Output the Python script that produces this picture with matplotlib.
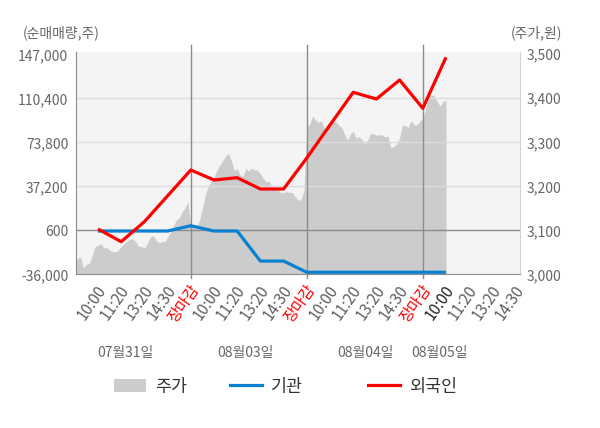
import matplotlib
matplotlib.use("Agg")
import matplotlib.pyplot as plt
import matplotlib.transforms as mtrans
import numpy as np
from matplotlib.patches import Patch
from matplotlib.lines import Line2D
from matplotlib.ticker import FuncFormatter

plt.rcParams['font.family'] = ['Noto Sans CJK KR', 'DejaVu Sans']

# ---------------- data ----------------
time_labels = ["10:00", "11:20", "13:20", "14:30", "장마감",
               "10:00", "11:20", "13:20", "14:30", "장마감",
               "10:00", "11:20", "13:20", "14:30", "장마감",
               "10:00", "11:20", "13:20", "14:30"]
date_labels = ["07월31일", "08월03일", "08월04일", "08월05일"]
date_label_pos = [1.16, 6.34, 11.51, 14.74]

# net buying (shares) at each time slot
institution = [0, 0, 0, 0, 4400, 0, 0, -25000, -25000,
               -34300, -34300, -34300, -34300, -34300, -34300, -34300]
foreign = [1680, -8880, 7750, 29255, 50760, 42440, 44350, 34950, 34950,
           60740, 88190, 115390, 109810, 125620, 102080, 144500]

# intraday price (won), sampled evenly through each session
price_day1 = [3032, 3036, 3040, 3014, 3023, 3025, 3042, 3063, 3066, 3070,
              3060, 3061, 3055, 3052, 3051, 3055, 3063, 3070, 3075, 3080,
              3080, 3074, 3063, 3064, 3059, 3070, 3085, 3088, 3078, 3072,
              3074, 3074, 3085, 3095, 3110, 3123, 3128, 3142, 3150, 3165]
price_day2 = [3110, 3107, 3108, 3123, 3150, 3180, 3200, 3210, 3220, 3237,
              3248, 3258, 3268, 3275, 3258, 3235, 3240, 3226, 3222, 3241,
              3235, 3241, 3237, 3237, 3228, 3218, 3210, 3212, 3199, 3192,
              3192, 3186, 3186, 3188, 3186, 3186, 3176, 3168, 3170, 3190]
price_day3 = [3335, 3340, 3360, 3351, 3345, 3349, 3332, 3339, 3345, 3348,
              3347, 3339, 3334, 3318, 3305, 3318, 3326, 3310, 3313, 3306,
              3297, 3305, 3320, 3319, 3316, 3317, 3317, 3312, 3314, 3288,
              3291, 3296, 3310, 3339, 3338, 3334, 3350, 3339, 3340, 3348]
price_day4 = [3355, 3375, 3405, 3408, 3405, 3392, 3382, 3393, 3396]

left_ticks = [-36000, 600, 37200, 73800, 110400, 147000]
right_ticks = [3000, 3100, 3200, 3300, 3400, 3500]
grid_vals = [37200, 73800, 110400]
zero_line = 600
day_breaks = [4, 9, 14]

# ---------------- style ----------------
GRAY_TXT = "#666666"
RED = "#ff0000"
BLUE = "#0a80d0"
AREA = "#cccccc"
BG = "#f4f4f4"

fig = plt.figure(figsize=(6, 4.28), dpi=100)
pos = [76 / 600, 1 - 274.3 / 428, (520 - 76) / 600, (274.3 - 51.7) / 428]
ax1 = fig.add_axes(pos)
ax2 = ax1.twinx()
ax1.set_zorder(ax2.get_zorder() + 1)
ax1.patch.set_visible(False)
ax2.patch.set_visible(True)
ax2.set_facecolor(BG)

# price area on the right axis
days = [price_day1, price_day2, price_day3, price_day4]
step = 5 / 40
for d, vals in enumerate(days):
    xs = 5 * d - 1 + step * np.arange(len(vals))
    if d + 1 < len(days):
        xs = np.append(xs, 5 * d + 4)
        vals = list(vals) + [days[d + 1][0]]
    ax2.fill_between(xs, vals, 3000, color=AREA, linewidth=0, zorder=1)

# grid / reference lines on the left axis
for g in grid_vals:
    ax1.axhline(g, color="#dcdcdc", lw=1, zorder=1)
ax1.axhline(zero_line, color="#8c8c8c", lw=1, zorder=2)
for b in day_breaks:
    ax1.axvline(b, ymin=-0.018, ymax=1.03, color="#8c8c8c", lw=1,
                zorder=2, clip_on=False)

idx = np.arange(len(foreign))
ax1.plot(idx, institution, color=BLUE, lw=2.3, zorder=3, solid_capstyle='butt')
ax1.plot(idx, foreign, color=RED, lw=2.3, zorder=4, solid_capstyle='butt')

ax1.set_xlim(-0.948, 18.19)
ax1.set_ylim(-36000, 149163)
ax2.set_ylim(3000, 3505.9)

ax1.set_yticks(left_ticks)
ax1.yaxis.set_major_formatter(FuncFormatter(lambda v, p: f"{v:,.0f}"))
ax2.set_yticks(right_ticks)
ax2.yaxis.set_major_formatter(FuncFormatter(lambda v, p: f"{v:,.0f}"))
ax1.tick_params(axis='y', length=0, pad=5.5, labelsize=10, labelcolor=GRAY_TXT)
ax2.tick_params(axis='y', length=0, pad=5, labelsize=10, labelcolor=GRAY_TXT)

ax1.set_xticks(range(len(time_labels)))
ax1.set_xticklabels(time_labels)
ax1.tick_params(axis='x', length=0, pad=5.5, labelsize=11)
offset = mtrans.ScaledTranslation(-2 / 100, 0, fig.dpi_scale_trans)
for i, lab in enumerate(ax1.get_xticklabels()):
    lab.set_rotation(55)
    lab.set_ha('right')
    lab.set_va('top')
    lab.set_rotation_mode('anchor')
    lab.set_transform(lab.get_transform() + offset)
    t = time_labels[i]
    if t == "장마감":
        lab.set_color(RED)
    elif i == 15:
        lab.set_color("#222222")
    else:
        lab.set_color("#606060")

for s in ['top', 'right']:
    ax1.spines[s].set_visible(False)
for s in ['left', 'bottom']:
    ax1.spines[s].set_color("#8c8c8c")
for s in ['top', 'left', 'bottom']:
    ax2.spines[s].set_visible(False)
ax2.spines['right'].set_color("#d4d4d4")

# date labels
trans = mtrans.blended_transform_factory(ax1.transData, ax1.transAxes)
for x, t in zip(date_label_pos, date_labels):
    ax1.text(x, -0.3535, t, transform=trans, ha='center', va='center',
             fontsize=10, color=GRAY_TXT)

# axis titles
fig.text(22.7 / 600, 1 - 33 / 428, "(순매매량,주)", ha='left', va='center',
         fontsize=10, color=GRAY_TXT)
fig.text(562 / 600, 1 - 33 / 428, "(주가,원)", ha='right', va='center',
         fontsize=10, color=GRAY_TXT)

# legend
leg_items = [
    (Patch(facecolor=AREA, edgecolor='none'), "주가", 114),
    (Line2D([], [], color=BLUE, lw=2.3), "기관", 230),
    (Line2D([], [], color=RED, lw=2.3), "외국인", 368),
]
for h, l, xp in leg_items:
    fig.legend([h], [l], loc='center left', bbox_to_anchor=(xp / 600, 1 - 386.7 / 428),
               frameon=False, fontsize=12.5, handlelength=1.84, handleheight=0.82,
               handletextpad=0.5, borderpad=0, borderaxespad=0, labelcolor="#333333")

fig.savefig("out.png", dpi=100)
